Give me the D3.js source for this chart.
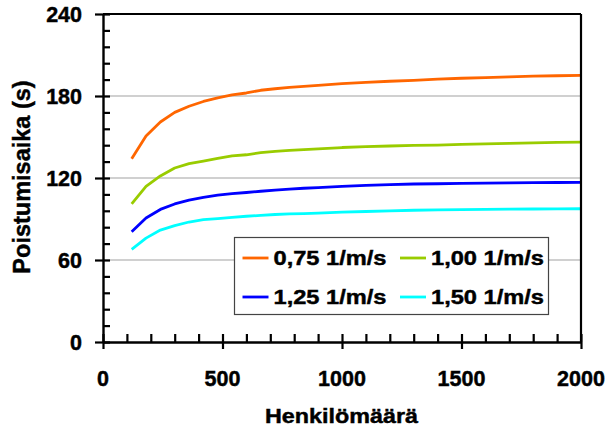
<!DOCTYPE html>
<html>
<head>
<meta charset="utf-8">
<script src="https://cdn.jsdelivr.net/npm/d3@7"></script>
<style>
  html, body { margin: 0; padding: 0; background: #fff; }
  svg { display: block; font-family: Arial, "Liberation Sans", sans-serif; font-weight: bold; }
  svg text { stroke: #000; stroke-width: 0.45px; fill: #000; }
</style>
</head>
<body>
<svg id="chart" width="608" height="428"></svg>
<script>
// ---- data ----
const persons = [120,180,240,300,360,420,480,540,600,660,720,780,840,900,1000,1100,1200,1300,1400,1500,1600,1700,1800,1900,2000];
const s075 = [134,150.7,161,168,172.5,176,178.7,180.8,182.2,184.2,185.3,186.3,187,187.7,189,190,190.8,191.5,192.3,193,193.5,194,194.5,194.8,195.1];
const s100 = [101,113.8,121.5,127.3,130.5,132.3,134.3,136.2,137,138.5,139.5,140.2,140.8,141.3,142.3,142.9,143.4,143.8,144.1,144.6,145,145.4,145.7,146,146.3];
const s125 = [80.7,90.7,97,101,103.8,105.9,107.4,108.5,109.4,110.3,111.2,111.8,112.5,113,113.9,114.6,115.2,115.6,115.8,116.1,116.3,116.5,116.6,116.7,116.8];
const s150 = [67.8,76,81.9,85.2,87.8,89.5,90.3,91.2,92,92.6,93.3,93.7,94,94.3,95,95.5,95.9,96.4,96.7,96.9,97,97.2,97.3,97.4,97.5];
const seriesNames = ["0,75 1/m/s","1,00 1/m/s","1,25 1/m/s","1,50 1/m/s"];
const seriesColors = ["#FF6600","#99CC00","#0000FF","#00FFFF"];
const xTicks = [0,500,1000,1500,2000];
const yTicks = [0,60,120,180,240];
const xTitle = "Henkilömäärä";
const yTitle = "Poistumisaika (s)";

const seriesValues = [s075, s100, s125, s150];

// ---- layout ----
const L = 103, R = 581, T = 14, B = 342;
const svg = d3.select("#chart");
const x = d3.scaleLinear().domain([0, 2000]).range([L, R]);
const y = d3.scaleLinear().domain([0, 240]).range([B, T]);

// gridlines
svg.append("g").selectAll("line")
  .data(yTicks.filter(v => v > 0 && v < 240))
  .join("line")
  .attr("x1", L).attr("x2", R)
  .attr("y1", d => y(d)).attr("y2", d => y(d))
  .attr("stroke", "#c0c0c0").attr("stroke-width", 1.5);

// series lines
const line = d3.line().x((d, i) => x(persons[i])).y(d => y(d));
svg.append("g").selectAll("path")
  .data(seriesValues)
  .join("path")
  .attr("d", d => line(d))
  .attr("fill", "none")
  .attr("stroke", (d, i) => seriesColors[i])
  .attr("stroke-width", 2.8)
  .attr("stroke-linejoin", "round");

// frame: top & right
svg.append("line").attr("x1", L).attr("x2", R).attr("y1", T).attr("y2", T)
  .attr("stroke", "#000").attr("stroke-width", 2.2);
svg.append("line").attr("x1", R).attr("x2", R).attr("y1", T).attr("y2", B)
  .attr("stroke", "#000").attr("stroke-width", 2.2);

// y axis
const yAxis = svg.append("g").attr("transform", `translate(${L},0)`);
yAxis.call(d3.axisLeft(y).tickValues(d3.range(0, 241, 12)).tickSize(0).tickFormat(""));
yAxis.select(".domain").attr("stroke", "#000").attr("stroke-width", 2.4);
yAxis.selectAll(".tick line")
  .attr("x1", d => yTicks.includes(d) ? -8 : 0)
  .attr("x2", 7)
  .attr("stroke", "#000").attr("stroke-width", 2.2);
svg.append("g").selectAll("text")
  .data(yTicks).join("text")
  .attr("x", 82).attr("y", d => y(d))
  .attr("dy", "0.36em")
  .attr("text-anchor", "end")
  .attr("font-size", 21.5)
  .text(d => d);

// x axis
const xAxis = svg.append("g").attr("transform", `translate(0,${B})`);
xAxis.call(d3.axisBottom(x).tickValues(d3.range(0, 2001, 100)).tickSize(0).tickFormat(""));
xAxis.select(".domain").attr("stroke", "#000").attr("stroke-width", 2.4);
xAxis.selectAll(".tick line")
  .attr("y1", -8)
  .attr("y2", d => xTicks.includes(d) ? 7 : 0)
  .attr("stroke", "#000").attr("stroke-width", 2.2);
svg.append("g").selectAll("text")
  .data(xTicks).join("text")
  .attr("x", d => x(d)).attr("y", 386)
  .attr("text-anchor", "middle")
  .attr("font-size", 21.5)
  .text(d => d);

// axis titles
svg.append("text")
  .attr("x", 341.5).attr("y", 423)
  .attr("text-anchor", "middle")
  .attr("font-size", 20.5)
  .attr("textLength", 153).attr("lengthAdjust", "spacingAndGlyphs")
  .text(xTitle);
svg.append("text")
  .attr("transform", "translate(30,177) rotate(-90)")
  .attr("text-anchor", "middle")
  .attr("font-size", 23.5)
  .text(yTitle);

// legend
const lg = svg.append("g");
lg.append("rect")
  .attr("x", 234.5).attr("y", 237.5).attr("width", 314).attr("height", 77)
  .attr("fill", "#fff").attr("stroke", "#444").attr("stroke-width", 1.2);
const cols = [242.5, 400];
const rows = [258, 297];
seriesNames.forEach((name, i) => {
  const cx = cols[i % 2], cy = rows[Math.floor(i / 2)];
  lg.append("line").attr("x1", cx).attr("x2", cx + 26).attr("y1", cy).attr("y2", cy)
    .attr("stroke", seriesColors[i]).attr("stroke-width", 2.8);
  lg.append("text").attr("x", cx + 31).attr("y", cy).attr("dy", "0.36em")
    .attr("font-size", 20.5)
    .attr("textLength", 113).attr("lengthAdjust", "spacingAndGlyphs")
    .text(name);
});
</script>
</body>
</html>
